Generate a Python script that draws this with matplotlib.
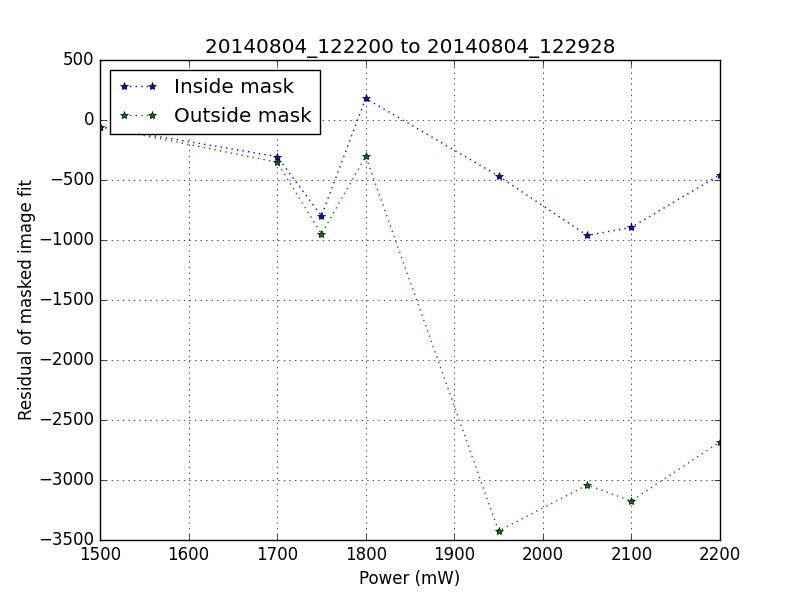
import matplotlib
matplotlib.use('Agg')
import matplotlib.pyplot as plt

plt.style.use('classic')

power = [1500, 1700, 1750, 1800, 1950, 2050, 2100, 2200]
inside = [-55, -305, -800, 180, -467, -962, -894, -456]
outside = [-55, -352, -950, -303, -3425, -3042, -3175, -2681]

fig = plt.figure(figsize=(8, 6), dpi=100)
plt.plot(power, inside, 'b*:', label='Inside mask')
plt.plot(power, outside, 'g*:', label='Outside mask')
plt.xlabel('Power (mW)')
plt.ylabel('Residual of masked image fit', labelpad=1.5)
plt.title('20140804_122200 to 20140804_122928')
plt.xlim(1500, 2200)
plt.ylim(-3500, 500)
plt.grid()
plt.legend(loc='upper left')
plt.savefig('out.png', dpi=100)
